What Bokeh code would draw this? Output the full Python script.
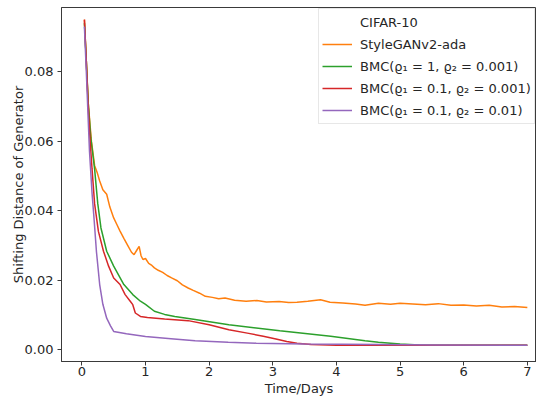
from bokeh.plotting import figure
from bokeh.models import Range1d, Legend, LegendItem
from bokeh.embed import file_html
from bokeh.resources import INLINE

# ---------------- data ----------------
orange_t = [0.04, 0.07, 0.1, 0.15, 0.2, 0.24, 0.28, 0.33, 0.39, 0.44, 0.5, 0.55, 0.6, 0.66,
            0.72, 0.78, 0.82, 0.86, 0.9, 0.93, 0.96, 1.0, 1.05, 1.1, 1.14, 1.2, 1.27, 1.34,
            1.41, 1.5, 1.58, 1.67, 1.75, 1.85, 1.94, 2.05, 2.15, 2.25, 2.4, 2.58, 2.75, 2.9,
            3.1, 3.25, 3.38, 3.55, 3.75, 3.9, 4.1, 4.3, 4.45, 4.66, 4.85, 5.0, 5.2, 5.4, 5.6,
            5.8, 6.0, 6.2, 6.4, 6.6, 6.8, 7.0]
orange_v = [0.095, 0.083, 0.071, 0.06, 0.053, 0.051, 0.0485, 0.046, 0.0447, 0.041, 0.0379,
            0.036, 0.0341, 0.032, 0.030, 0.028, 0.0273, 0.0285, 0.0297, 0.027, 0.0259, 0.0262,
            0.0248, 0.0242, 0.0235, 0.0228, 0.0222, 0.0213, 0.0206, 0.0198, 0.0186, 0.0177,
            0.017, 0.0162, 0.0153, 0.0150, 0.0146, 0.0148, 0.0142, 0.0139, 0.0141, 0.0137,
            0.0138, 0.0135, 0.0136, 0.0139, 0.0143, 0.0136, 0.0134, 0.0131, 0.0127, 0.0133,
            0.0130, 0.0133, 0.0131, 0.0129, 0.0132, 0.0127, 0.0128, 0.0125, 0.0127, 0.0122,
            0.0124, 0.0121]

green_t = [0.04, 0.07, 0.1, 0.14, 0.2, 0.25, 0.3, 0.39, 0.5, 0.66, 0.8, 0.92, 1.0, 1.14,
           1.3, 1.46, 1.78, 2.31, 3.11, 3.91, 4.45, 4.66, 5.0, 5.3, 6.0, 7.0]
green_v = [0.094, 0.083, 0.071, 0.061, 0.052, 0.042, 0.035, 0.0283, 0.024, 0.0187, 0.0158,
           0.0139, 0.013, 0.011, 0.0101, 0.0095, 0.0086, 0.0071, 0.0054, 0.0038, 0.0025,
           0.0021, 0.0016, 0.0013, 0.0012, 0.0012]

red_t = [0.04, 0.07, 0.1, 0.13, 0.16, 0.2, 0.26, 0.34, 0.42, 0.5, 0.6, 0.68, 0.76, 0.8,
         0.84, 0.92, 1.03, 1.3, 1.67, 2.0, 2.31, 2.6, 2.85, 3.05, 3.22, 3.38, 3.6, 4.0,
         5.0, 6.0, 7.0]
red_v = [0.095, 0.083, 0.07, 0.06, 0.052, 0.042, 0.034, 0.0283, 0.024, 0.0206, 0.0187,
         0.0158, 0.0139, 0.0129, 0.0105, 0.0095, 0.0092, 0.0088, 0.0083, 0.0071, 0.0057,
         0.0047, 0.0038, 0.003, 0.0023, 0.0018, 0.0014, 0.0012, 0.0012, 0.0012, 0.0012]

purple_t = [0.04, 0.07, 0.1, 0.12, 0.16, 0.19, 0.23, 0.28, 0.33, 0.39, 0.45, 0.5, 0.7, 1.0,
            1.4, 1.78, 2.3, 2.74, 3.5, 4.66, 5.5, 7.0]
purple_v = [0.093, 0.08, 0.066, 0.057, 0.045, 0.038, 0.028, 0.0187, 0.013, 0.009, 0.0068,
            0.0052, 0.0045, 0.0037, 0.0031, 0.0025, 0.0021, 0.0018, 0.0016, 0.0014, 0.0013,
            0.0012]

legend_title = "CIFAR-10"
series_names = ["StyleGANv2-ada",
                "BMC(ϱ₁ = 1, ϱ₂ = 0.001)",
                "BMC(ϱ₁ = 0.1, ϱ₂ = 0.001)",
                "BMC(ϱ₁ = 0.1, ϱ₂ = 0.01)"]
x_label = "Time/Days"
y_label = "Shifting Distance of Generator"
x_ticks = [0, 1, 2, 3, 4, 5, 6, 7]
y_ticks = [0.0, 0.02, 0.04, 0.06, 0.08]

# ---------------- figure ----------------
FONT = "DejaVu Sans"
TEXT = "#262626"

p = figure(width=536, height=398, output_backend="svg", toolbar_location=None,
           x_range=Range1d(-0.32, 7.144), y_range=Range1d(-0.00347, 0.0985),
           min_border_left=61, min_border_right=0, min_border_top=7, min_border_bottom=0)
p.background_fill_color = "white"
p.border_fill_color = "white"
p.outline_line_color = "#3a3a3a"
p.outline_line_width = 1
p.xgrid.visible = False
p.ygrid.visible = False

for ax in (p.xaxis[0], p.yaxis[0]):
    ax.axis_line_color = "#3a3a3a"
    ax.major_tick_line_color = "#3a3a3a"
    ax.major_tick_in = 0
    ax.major_tick_out = 4
    ax.minor_tick_line_color = None
    ax.major_label_text_font = FONT
    ax.major_label_text_font_size = "13px"
    ax.major_label_text_color = TEXT
    ax.axis_label_text_font = FONT
    ax.axis_label_text_font_size = "13px"
    ax.axis_label_text_font_style = "normal"
    ax.axis_label_text_color = TEXT

p.xaxis.ticker = x_ticks
p.yaxis.ticker = y_ticks
p.yaxis.major_label_overrides = {v: f"{v:.2f}" for v in y_ticks}
p.xaxis.axis_label = x_label
p.yaxis.axis_label = y_label
p.xaxis.major_label_standoff = 1
p.xaxis.axis_label_standoff = 2
p.xaxis.major_label_text_line_height = 1.0
p.xaxis.axis_label_text_line_height = 1.0
p.yaxis.major_label_standoff = 4
p.yaxis.axis_label_standoff = -4

LW = 1.5
r_title = p.line(x=[], y=[], line_alpha=0)
r_o = p.line(orange_t, orange_v, line_color="#ff7f0e", line_width=LW)
r_g = p.line(green_t, green_v, line_color="#2ca02c", line_width=LW)
r_r = p.line(red_t, red_v, line_color="#d62728", line_width=LW)
r_p = p.line(purple_t, purple_v, line_color="#9467bd", line_width=LW)

legend = Legend(items=[LegendItem(label=legend_title, renderers=[r_title]),
                       LegendItem(label=series_names[0], renderers=[r_o]),
                       LegendItem(label=series_names[1], renderers=[r_g]),
                       LegendItem(label=series_names[2], renderers=[r_r]),
                       LegendItem(label=series_names[3], renderers=[r_p])],
                location=(257, 237))
legend.margin = 0
legend.padding = 3
legend.spacing = 2
legend.label_height = 20
legend.glyph_height = 20
legend.glyph_width = 30
legend.label_standoff = 8
legend.label_text_font = FONT
legend.label_text_font_size = "13px"
legend.label_text_color = TEXT
legend.border_line_color = "#d0d0d0"
legend.border_line_width = 1
legend.background_fill_color = "white"
legend.background_fill_alpha = 0.8
p.add_layout(legend, "center")

open("out.html", "w").write(file_html(p, INLINE))
